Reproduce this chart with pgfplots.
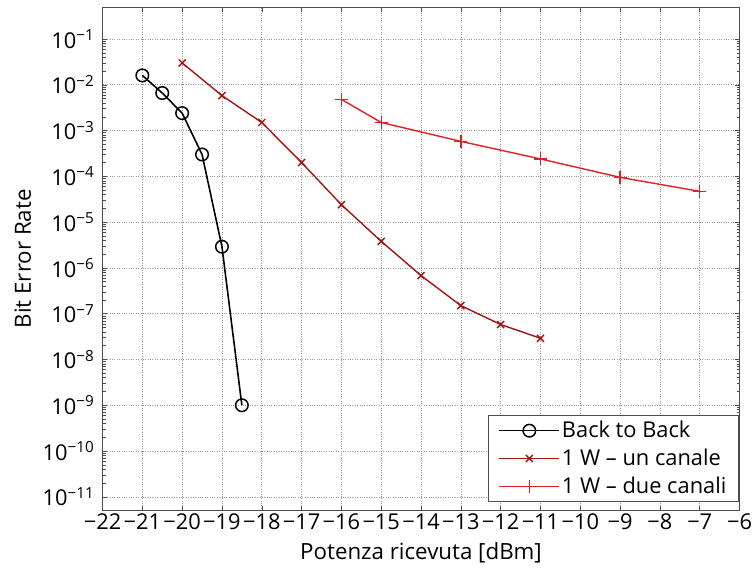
\documentclass[border=0pt]{standalone}
\usepackage{pgfplots}
\pgfplotsset{compat=1.18}
\usepackage{fontspec}
\setmainfont{Open Sans}
\definecolor{unred}{RGB}{160,20,20}
\definecolor{duered}{RGB}{225,30,35}
\begin{document}
\fontsize{22.5}{27}\selectfont
\begin{tikzpicture}
\begin{axis}[
  scale only axis,
  width=640bp, height=506bp,
  xmin=-22, xmax=-6,
  ymode=log, ymin=5e-12, ymax=0.5,
  xtick={-22,-21,...,-6},
  xticklabels={−22,−21,−20,−19,−18,−17,−16,−15,−14,−13,−12,−11,−10,−9,−8,−7,−6},
  ytick={1e-11,1e-10,1e-9,1e-8,1e-7,1e-6,1e-5,1e-4,1e-3,1e-2,1e-1},
  yticklabels={10\textsuperscript{−11},10\textsuperscript{−10},10\textsuperscript{−9},10\textsuperscript{−8},10\textsuperscript{−7},10\textsuperscript{−6},10\textsuperscript{−5},10\textsuperscript{−4},10\textsuperscript{−3},10\textsuperscript{−2},10\textsuperscript{−1}},
  xticklabel style={font=\fontsize{22}{26}\selectfont, inner sep=1bp, yshift=-2bp},
  yticklabel style={font=\fontsize{22}{26}\selectfont, inner sep=2bp, xshift=-6bp},
  tick align=inside,
  major tick length=5bp, minor tick length=3bp,
  tick style={black!70, line width=0.5pt},
  axis line style={black!70, line width=0.8pt},
  grid=major,
  major grid style={dotted, gray!80, line width=0.6pt},
  xlabel={Potenza ricevuta [dBm]},
  ylabel={Bit Error Rate},
  x label style={at={(axis description cs:0.5,-0.083)}, anchor=center},
  y label style={at={(axis description cs:-0.125,0.5)}, anchor=center},
  legend style={at={(rel axis cs:1,0)}, anchor=south east, xshift=-1bp, yshift=9bp,
    draw=black!70, line width=0.6pt, font=\fontsize{22}{26}\selectfont,
    row sep=4bp, inner xsep=10bp, inner ysep=3bp},
  legend cell align=left,
  legend image code/.code={\draw[mark repeat=2,mark phase=2] plot coordinates {(0bp,0bp) (30bp,0bp) (60bp,0bp)};},
]
\addplot[black, line width=1.6pt, mark=o, mark size=6.3bp, mark options={line width=1.5pt, fill=white}]
  coordinates {(-21,1.6e-2) (-20.5,6.6e-3) (-20,2.4e-3) (-19.5,3e-4) (-19,2.9e-6) (-18.5,1e-9)};
\addlegendentry{Back to Back}
\addplot[unred, line width=1.4pt, mark=x, mark size=5bp, mark options={line width=1.4pt}]
  coordinates {(-20,3e-2) (-19,5.8e-3) (-18,1.5e-3) (-17,2e-4) (-16,2.4e-5) (-15,3.8e-6) (-14,6.8e-7) (-13,1.5e-7) (-12,5.8e-8) (-11,2.9e-8)};
\addlegendentry{1 W – un canale}
\addplot[duered, line width=1.4pt, mark=+, mark size=6.5bp, mark options={line width=1.4pt}]
  coordinates {(-16,4.8e-3) (-15,1.5e-3) (-13,5.8e-4) (-11,2.4e-4) (-9,9.5e-5) (-7,4.7e-5)};
\addlegendentry{1 W – due canali}
\end{axis}
\path (current axis.south west) ++(-103bp,-58bp) rectangle ([shift={(10bp,7bp)}]current axis.north east);
\end{tikzpicture}
\end{document}
